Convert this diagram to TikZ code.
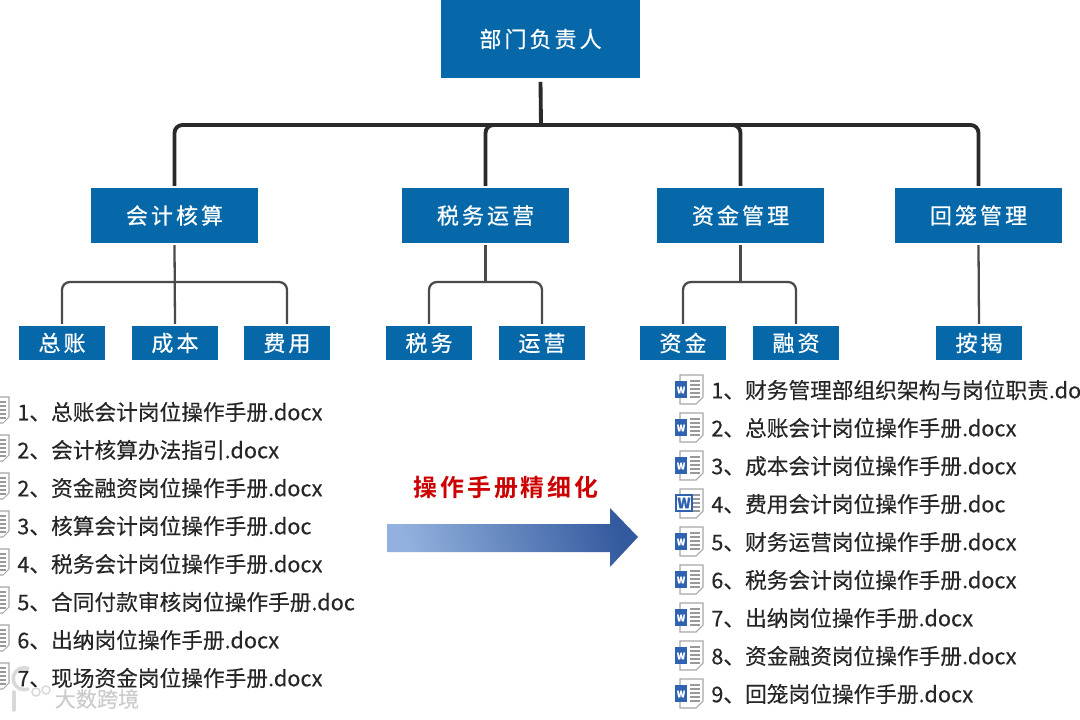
\documentclass[tikz,border=0pt]{standalone}
\usepackage{fontspec}
\setmainfont[FakeBold=0.25]{Noto Sans CJK SC}
\newfontfamily\boxfont[LetterSpace=14, FakeBold=0.6]{Noto Sans CJK SC}
\newfontfamily\titlefont[LetterSpace=12]{Noto Sans CJK SC Bold}
\newfontfamily\markfont[FakeBold=0.4]{Noto Sans CJK SC}
\definecolor{boxblue}{HTML}{0668A8}
\definecolor{linedark}{HTML}{2A2A2A}
\definecolor{linegray}{HTML}{4A4A4A}
\definecolor{iconblue}{HTML}{2F62B0}
\definecolor{arrowlight}{HTML}{93B1DE}
\definecolor{arrowmid}{HTML}{5B86CB}
\definecolor{arrowdark}{HTML}{335A9E}
\tikzset{
	basebox/.style={fill=boxblue, text=white, inner sep=0pt, font=\boxfont\fontsize{12.5}{15}\selectfont},
	headbox/.style={basebox, minimum width=3.98cm, minimum height=1.56cm},
	deptbox/.style={basebox, minimum width=3.34cm, minimum height=1.1cm},
	unitbox/.style={basebox, minimum width=1.72cm, minimum height=0.68cm},
	trunk/.style={draw=linedark, line width=2.2pt, rounded corners=4.5pt},
	branch/.style={draw=linegray, line width=1.3pt, rounded corners=4.5pt},
	listitem/.style={anchor=west, inner sep=0pt, text=black!85, font=\fontsize{12.35}{15}\selectfont},
	docpage/.pic={
		\draw[gray!70, fill=white, line width=0.6pt] (-10,-13) -- (-10,13) -- (3,13) -- (9,7) -- (9,-13) -- cycle;
		\foreach \ln in {-8,-4,0,4,8}
			\draw[gray!80, line width=0.6pt] (-7,\ln) -- (6,\ln);
	},
	wordpage/.pic={
		\draw[gray!70, fill=white, line width=0.6pt] (-9,-15) -- (-9,14) -- (7,14) -- (14,7) -- (14,-15) -- cycle;
		\foreach \ln in {-9,-5,-1,3,7}
			\draw[gray!80, line width=0.6pt] (1,\ln) -- (11,\ln);
		\fill[iconblue] (-14,-9) rectangle (-2,8);
		\node[text=white, inner sep=0pt, font=\fontsize{5}{6}\selectfont\bfseries] (wmark) at (-8,0) {W};
	},
	oldwordpage/.pic={
		\draw[gray!70, fill=white, line width=0.6pt] (-9,-15) -- (-9,14) -- (7,14) -- (14,7) -- (14,-15) -- cycle;
		\foreach \ln in {-9,-5,-1,3,7}
			\draw[gray!80, line width=0.6pt] (4,\ln) -- (11,\ln);
		\draw[iconblue, fill=white, line width=1.2pt] (-13,-9) rectangle (3,7);
		\node[text=iconblue, inner sep=0pt, font=\fontsize{8}{9}\selectfont\bfseries] (oldmark) at (-5,-1) {W};
	}
}
\begin{document}
\begin{tikzpicture}[x=0.02cm, y=-0.02cm]
	\clip (0,0) rectangle (1080,720);
	% 1. boxes
	\node[headbox] (head) at (540.5,39) {\raisebox{1pt}{部门负责人}};
	\node[deptbox] (acct) at (174.5,215.5) {会计核算};
	\node[deptbox] (taxops) at (485.5,215.5) {税务运营};
	\node[deptbox] (fund) at (740.5,215.5) {资金管理};
	\node[deptbox] (recv) at (978.5,215.5) {回笼管理};
	\node[unitbox] (ledger) at (62,343) {总账};
	\node[unitbox] (cost) at (175,343) {成本};
	\node[unitbox] (expense) at (287,343) {费用};
	\node[unitbox] (tax) at (429,343) {税务};
	\node[unitbox] (ops) at (542,343) {运营};
	\node[unitbox] (cash) at (683,343) {资金};
	\node[unitbox] (finance) at (796,343) {融资};
	\node[unitbox] (refund) at (979,343) {按揭};

	% 2. connectors
	\coordinate (bus) at (541,125);
	\coordinate (acctbus) at (174.5,282);
	\coordinate (taxbus) at (485.5,282);
	\coordinate (fundbus) at (740.5,282);
	\draw[trunk] ([yshift=-2pt]head.south) -- (bus);
	\draw[trunk] ([yshift=1pt]acct.north) |- (bus) -| ([yshift=1pt]recv.north);
	\draw[trunk] ([yshift=1pt]taxops.north) |- (bus) -| ([yshift=1pt]fund.north);
	\draw[branch] ([yshift=-1pt]acct.south) -- ([yshift=1pt]cost.north);
	\draw[branch] ([yshift=1pt]ledger.north) |- (acctbus) -| ([yshift=1pt]expense.north);
	\draw[branch] ([yshift=-1pt]taxops.south) -- (taxbus);
	\draw[branch] ([yshift=1pt]tax.north) |- (taxbus) -| ([yshift=1pt]ops.north);
	\draw[branch] ([yshift=-1pt]fund.south) -- (fundbus);
	\draw[branch] ([yshift=1pt]cash.north) |- (fundbus) -| ([yshift=1pt]finance.north);
	\draw[branch] ([yshift=-1pt]recv.south) -- ([yshift=1pt]refund.north);

	% 3. file list on the left
	\foreach \ypos/\fname [count=\i] in {
		412/1、总账会计岗位操作手册.docx,
		450/2、会计核算办法指引.docx,
		488/2、资金融资岗位操作手册.docx,
		526/3、核算会计岗位操作手册.doc,
		564/4、税务会计岗位操作手册.docx,
		602/5、合同付款审核岗位操作手册.doc,
		640/6、出纳岗位操作手册.docx,
		678/7、现场资金岗位操作手册.docx}{
		\pic at (0,\ypos-2) {docpage};
		\node[listitem] (old\i) at (17,\ypos) {\fname};
	}

	% 4. file list on the right
	\foreach \ypos/\fname/\kind [count=\i] in {
		390/1、财务管理部组织架构与岗位职责.docx/wordpage,
		428/2、总账会计岗位操作手册.docx/wordpage,
		466/3、成本会计岗位操作手册.docx/wordpage,
		504/4、费用会计岗位操作手册.doc/oldwordpage,
		542/5、财务运营岗位操作手册.docx/wordpage,
		580/6、税务会计岗位操作手册.docx/wordpage,
		618/7、出纳岗位操作手册.docx/wordpage,
		656/8、资金融资岗位操作手册.docx/wordpage,
		694/9、回笼岗位操作手册.docx/wordpage}{
		\pic at (689,\ypos) {\kind};
		\node[listitem] (new\i) at (711,\ypos) {\fname};
	}

	% 5. big arrow and its title
	\node[text=red!80!black, inner sep=0pt, font=\titlefont\fontsize{13.6}{16}\selectfont] (arrowtitle) at (506,487) {操作手册精细化};
	\shade[left color=arrowlight, middle color=arrowmid, right color=arrowdark, shading angle=105]
		(387,524) -- (610,524) -- (610,508) -- (638,537) -- (610,567) -- (610,552) -- (387,552) -- cycle;

	% 6. watermark
	\draw[gray!30, line width=2pt, line cap=round] (14,692) -- (14,710);
	\draw[gray!30, line width=2pt, line cap=round] (28,689) arc (70:290:11);
	\draw[gray!30, line width=0.9pt] (36,692) circle (4) (46,690) circle (4);
	\node[text=gray!40, inner sep=0pt, font=\markfont\fontsize{12}{14}\selectfont] (mark) at (97,699) {大数跨境};
\end{tikzpicture}
\end{document}
